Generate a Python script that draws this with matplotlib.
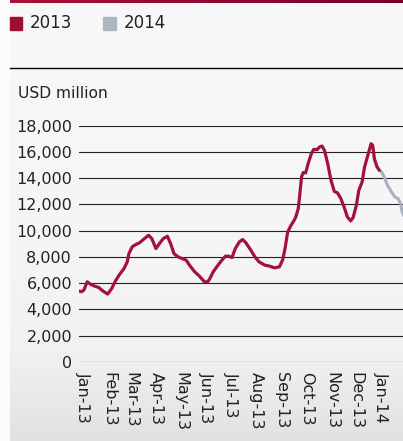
import matplotlib
matplotlib.use("Agg")
import matplotlib.pyplot as plt
from matplotlib.patches import Rectangle
from matplotlib.lines import Line2D
import numpy as np
import pandas as pd

# monthly balance, USD million
dates_2013 = [
    "2012-12-26", "2012-12-30", "2013-01-02", "2013-01-06", "2013-01-10",
    "2013-01-15", "2013-01-20", "2013-01-25", "2013-01-31", "2013-02-05",
    "2013-02-09", "2013-02-14", "2013-02-20", "2013-02-24", "2013-02-26",
    "2013-03-02", "2013-03-07", "2013-03-11", "2013-03-17", "2013-03-22",
    "2013-03-26", "2013-03-31", "2013-04-05", "2013-04-09", "2013-04-14",
    "2013-04-18", "2013-04-22", "2013-04-27", "2013-05-02", "2013-05-07",
    "2013-05-11", "2013-05-17", "2013-05-23", "2013-05-29", "2013-06-02",
    "2013-06-05", "2013-06-09", "2013-06-14", "2013-06-19", "2013-06-24",
    "2013-06-28", "2013-07-02", "2013-07-06", "2013-07-11", "2013-07-15",
    "2013-07-19", "2013-07-25", "2013-07-30", "2013-08-04", "2013-08-11",
    "2013-08-17", "2013-08-23", "2013-08-29", "2013-09-02", "2013-09-05",
    "2013-09-08", "2013-09-12", "2013-09-16", "2013-09-18", "2013-09-21",
    "2013-09-23", "2013-09-25", "2013-09-27", "2013-09-30", "2013-10-03",
    "2013-10-07", "2013-10-10", "2013-10-14", "2013-10-17", "2013-10-20",
    "2013-10-23", "2013-10-27", "2013-10-31", "2013-11-04", "2013-11-08",
    "2013-11-12", "2013-11-16", "2013-11-20", "2013-11-24", "2013-11-27",
    "2013-12-01", "2013-12-04", "2013-12-08", "2013-12-11", "2013-12-15",
    "2013-12-19", "2013-12-21", "2013-12-23", "2013-12-26", "2013-12-29",
]
values_2013 = [
    5420, 5350, 5480, 6110, 5930,
    5780, 5680, 5420, 5170, 5600,
    6110, 6620, 7120, 7630, 8260,
    8770, 8970, 9080, 9400, 9660,
    9400, 8640, 9080, 9400, 9580,
    9020, 8260, 8010, 7880, 7760,
    7380, 6900, 6550, 6130, 6080,
    6360, 6870, 7300, 7710, 8060,
    8060, 7960, 8640, 9150, 9330,
    9080, 8520, 8010, 7630, 7380,
    7300, 7170, 7250, 7800, 8700,
    9900, 10400, 10800, 11050, 11690,
    12830, 14100, 14430, 14400, 15110,
    15870, 16200, 16170, 16380, 16450,
    16120, 15110, 13840, 13000, 12880,
    12450, 11810, 11050, 10750, 11000,
    11940, 13080, 13710, 14850, 15740,
    16630, 16500, 15490, 14900, 14600,
]
dates_2014 = [
    "2013-12-29", "2013-12-31", "2014-01-04", "2014-01-08", "2014-01-13",
    "2014-01-17", "2014-01-21", "2014-01-24", "2014-01-26", "2014-01-29",
]
values_2014 = [
    14600, 14550, 14100, 13460, 12950,
    12570, 12450, 12070, 11430, 11000,
]

y_ticks = list(range(0, 18001, 2000))
month_ticks = pd.date_range("2013-01-01", "2014-01-01", freq="MS")
month_labels = [d.strftime("%b-%y") for d in month_ticks]

RED = "#a3123a"
GREY = "#a7b1bd"

W, H = 403, 441
fig = plt.figure(figsize=(W / 100, H / 100), dpi=100)
fig.patch.set_facecolor("#fbfbfb")

# panel background with soft vertical gradient
bg = fig.add_axes([10 / W, 0, 1 - 10 / W, 1], zorder=-10)
rows = np.linspace(0, 1, 200)
shade = np.interp(rows, [0, 0.55, 0.8, 1], [0.972, 0.962, 0.945, 0.885])
bg.imshow(np.stack([shade] * 3, axis=-1)[:, None, :],
          aspect="auto", extent=[0, 1, 0, 1])
bg.set_axis_off()

# dark red strip along the top
bar = fig.add_axes([10 / W, 1 - 3 / H, 1 - 10 / W, 3 / H], zorder=-5)
grad = np.linspace(0, 1, 100)
r = np.interp(grad, [0, 1], [0.66, 0.47])
g = np.interp(grad, [0, 1], [0.07, 0.0])
b = np.interp(grad, [0, 1], [0.23, 0.13])
bar.imshow(np.stack([r, g, b], axis=-1)[None, :, :], aspect="auto",
           extent=[0, 1, 0, 1])
bar.set_axis_off()

# legend
fig.patches.append(Rectangle((10 / W, 1 - 30 / H), 12 / W, 13 / H,
                             transform=fig.transFigure, color="#9c0e36"))
fig.text(30 / W, 1 - 23.5 / H, "2013", fontsize=12, va="center", color="#222222")
fig.patches.append(Rectangle((103 / W, 1 - 30 / H), 13 / W, 13 / H,
                             transform=fig.transFigure, color="#aeb6c2"))
fig.text(124 / W, 1 - 23.5 / H, "2014", fontsize=12, va="center", color="#222222")

fig.lines.append(Line2D([10 / W, 1], [1 - 68 / H, 1 - 68 / H],
                        transform=fig.transFigure, color="black", lw=1.0))
fig.text(18 / W, 1 - 93 / H, "USD million", fontsize=11.2, va="center",
         color="#222222")

ax = fig.add_axes([79 / W, 79 / H, 324 / W, 236.3 / H])
ax.set_facecolor("none")

d13 = pd.to_datetime(dates_2013)
d14 = pd.to_datetime(dates_2014)
ax.plot(d14, values_2014, color=GREY, lw=2.2, solid_capstyle="round", zorder=3)
ax.plot(d13, values_2013, color=RED, lw=2.3, solid_capstyle="round", zorder=4)

for v in y_ticks:
    ax.axhline(v, color="#222222", lw=0.8, zorder=1)

ax.set_ylim(0, 18000)
ax.set_xlim(pd.Timestamp("2012-12-27"), pd.Timestamp("2014-01-27"))
ax.set_yticks(y_ticks)
ax.set_yticklabels([f"{v:,}" for v in y_ticks], fontsize=11.5, color="#222222")
ax.set_xticks(month_ticks)
ax.set_xticklabels(month_labels, rotation=-90, fontsize=11.5, color="#222222",
                   ha="center", va="top")
ax.tick_params(axis="both", length=0)
ax.tick_params(axis="y", pad=5)
ax.tick_params(axis="x", pad=7)
for s in ax.spines.values():
    s.set_visible(False)

fig.savefig("out.png", dpi=100)
